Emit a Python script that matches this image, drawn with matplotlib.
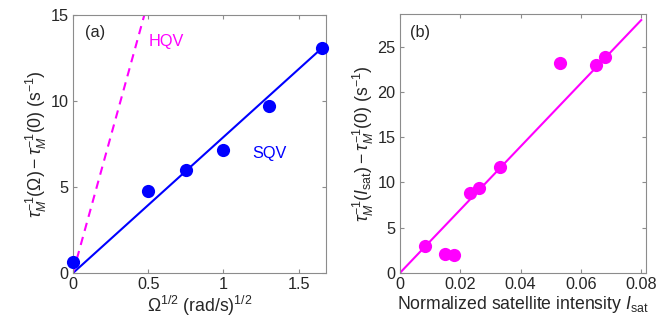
import matplotlib
matplotlib.use("Agg")
import matplotlib.pyplot as plt
import numpy as np

plt.rcParams['font.family'] = ['Liberation Sans', 'DejaVu Sans']
plt.rcParams['mathtext.fontset'] = 'custom'
plt.rcParams['mathtext.rm'] = 'Liberation Sans'
plt.rcParams['mathtext.it'] = 'Liberation Sans:italic'
plt.rcParams['mathtext.sf'] = 'Liberation Sans'

# Panel (a) data
omega_sqrt = [0.0, 0.5, 0.75, 1.0, 1.30, 1.654]
rate_a = [0.64, 4.76, 6.0, 7.14, 9.70, 13.06]
sqv_slope = 7.9
hqv_slope = 31.6

# Panel (b) data
isat = [0.0085, 0.0149, 0.018, 0.0232, 0.0264, 0.0332, 0.053, 0.0649, 0.0679]
rate_b = [3.01, 2.13, 1.99, 8.86, 9.38, 11.69, 23.16, 22.94, 23.82]
fit_b_slope = 349.0

fig = plt.figure(figsize=(6.63, 3.31), dpi=100)
tc = '#262626'
sc = '#8c8c8c'
fs = 11.7
lfs = 12.7

def style(ax):
    ax.tick_params(direction='in', top=True, right=True, colors=sc, labelcolor=tc,
                   labelsize=fs, length=3, width=0.8, pad=3)
    for s in ax.spines.values():
        s.set_color(sc)
        s.set_linewidth(0.8)

ax1 = fig.add_axes([0.110, 0.175, 0.382, 0.780])
xs = np.array([0, 1.654])
ax1.plot(xs, sqv_slope * xs, color='#0000ff', lw=1.5, zorder=2)
xh = np.array([0, 15 / hqv_slope])
ax1.plot(xh, hqv_slope * xh, color='#ff00ff', lw=1.5, ls=(0, (4, 3)), zorder=2)
ax1.plot(omega_sqrt, rate_a, 'o', color='#0000ff', ms=9.5, mew=0, zorder=3, clip_on=False)
ax1.set_xlim(0, 1.683)
ax1.set_ylim(0, 15)
ax1.set_xticks([0, 0.5, 1, 1.5])
ax1.set_xticklabels(['0', '0.5', '1', '1.5'])
ax1.set_yticks([0, 5, 10, 15])
style(ax1)
ax1.set_xlabel(r'$\Omega^{1/2}$ (rad/s)$^{1/2}$', fontsize=lfs, color=tc, labelpad=1)
ax1.set_ylabel(r'$\tau_M^{-1}(\Omega) - \tau_M^{-1}(0)$ (s$^{-1}$)', fontsize=lfs, color=tc, labelpad=1)
ax1.text(0.08, 14.0, '(a)', fontsize=fs, color=tc, va='center')
ax1.text(0.50, 13.45, 'HQV', fontsize=fs, color='#ff00ff', va='center')
ax1.text(1.19, 6.93, 'SQV', fontsize=fs, color='#0000ff', va='center')

ax2 = fig.add_axes([0.603, 0.175, 0.371, 0.783])
xb = np.array([0, 0.08])
ax2.plot(xb, fit_b_slope * xb, color='#ff00ff', lw=1.5, zorder=2)
ax2.plot(isat, rate_b, 'o', color='#ff00ff', ms=9.5, mew=0, zorder=3)
ax2.set_xlim(0, 0.0815)
ax2.set_ylim(0, 28.6)
ax2.set_xticks([0, 0.02, 0.04, 0.06, 0.08])
ax2.set_xticklabels(['0', '0.02', '0.04', '0.06', '0.08'])
ax2.set_yticks([0, 5, 10, 15, 20, 25])
style(ax2)
ax2.set_xlabel(r'Normalized satellite intensity $I_{\rm sat}$', fontsize=lfs, color=tc, labelpad=1)
ax2.set_ylabel(r'$\tau_M^{-1}(I_{\rm sat}) - \tau_M^{-1}(0)$ (s$^{-1}$)', fontsize=lfs, color=tc, labelpad=1)
ax2.text(0.0033, 26.6, '(b)', fontsize=fs, color=tc, va='center')

fig.savefig('out.png', dpi=100)
